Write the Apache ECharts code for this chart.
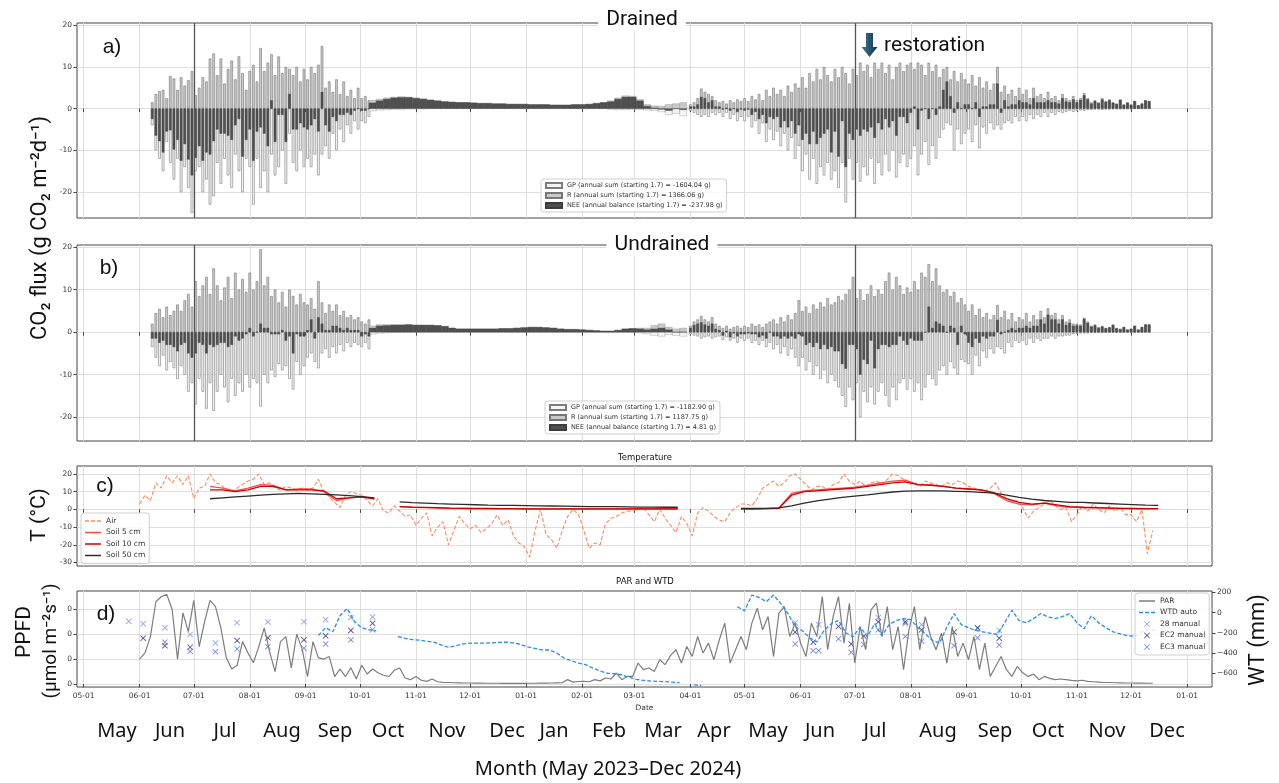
<!DOCTYPE html>
<html>
<head>
<meta charset="utf-8">
<title>CO2 flux, temperature, PAR and WTD (May 2023 - Dec 2024)</title>
<script src="https://cdn.jsdelivr.net/npm/echarts@6/dist/echarts.min.js"></script>
<style>
html, body { margin: 0; padding: 0; background: #fff; }
#main { width: 1279px; height: 783px; }
</style>
</head>
<body>
<div id="main"></div>
<script>
var DAY = 86400000;
function utc(y, m, d) { return Date.UTC(y, m - 1, d); }

// ---- sampling of the flux blocks (first day, step in days) ----
var season2023Start = utc(2023, 6, 8), season2024Start = utc(2024, 4, 1), seasonStep = 2;
var winterStart = utc(2023, 10, 8), winterStep = 4;

// ---- a) Drained, g CO2 m-2 d-1 ----
var gpDrained2023 = [-4, -10, -12, -15, -8, -13, -17, -12, -20, -14, -19, -25,
  -15, -14, -20, -17, -23, -21, -13, -18, -12, -16, -19, -11, -15, -20, -12,
  -14, -23, -12, -19, -15, -20, -11, -16, -14, -10, -18, -6, -13, -15, -10, -14,
  -12, -14, -11, -16, -11, -9, -12, -6, -10, -5, -8, -4, -6, -3, -5,
  -3, -3.5, -2];
var rDrained2023 = [1.5, 3.5, 4.2, 4.5, 2.5, 7.8, 7.2, 4.5, 7.5, 5.5, 6.8, 9,
  3.2, 5, 7.5, 6.5, 12, 13.2, 8, 12, 6, 9.5, 11.5, 7, 12.5, 8.5, 4.5,
  9, 10.5, 6.5, 14.5, 9, 11, 13, 8, 12.5, 8.5, 10, 9.5, 8, 10, 6.5, 9.5,
  7, 10, 8.5, 10.5, 15, 5, 6.5, 4, 7, 3.5, 6.5, 3, 4.5, 2.5, 5,
  2.5, 3, 2];
var gpDrainedWinter = [-0.6, -0.4, -0.3, -0.2, -0.2, -0.1,
  -0.1, -0.1, 0, 0, 0, 0, 0, 0,
  0, 0, 0, 0, 0, 0, 0, 0,
  0, 0, 0, 0, 0, 0, 0,
  0, 0, 0, 0, -0.2, -0.3, -0.3, -0.2,
  -0.3, -0.4, -0.5, -0.8, -1.5, -1.2, -1.8];
var rDrainedWinter = [2.0, 2.3, 2.6, 2.8, 2.9, 2.8,
  2.6, 2.4, 2.1, 1.9, 1.7, 1.6, 1.5, 1.5,
  1.4, 1.3, 1.3, 1.2, 1.2, 1.1, 1.1, 1.1,
  1.0, 1.0, 1.0, 0.9, 0.9, 0.9, 1.0,
  1.0, 1.1, 1.3, 1.5, 1.9, 2.6, 3.1, 3.0,
  2.2, 1.0, 0.7, 0.6, 1.0, 1.2, 1.5];
var gpDrained2024 = [-0.5, -1, -1.5, -2, -1.5, -2, -1, -1.5, -1, -2, -1, -2.5, -1.5, -3, -2,
  -3, -2, -4.5, -3, -6, -3.5, -8, -5, -7.5, -5.5, -9, -6, -10, -7, -12, -9,
  -15, -11, -17, -12, -18, -14, -16, -13, -17, -15, -19, -13, -22.5, -12, -17,
  -13, -17.5, -14, -16, -12, -18, -13, -16, -11, -15, -10, -16.5, -13, -11, -14,
  -12, -9, -16, -11, -8, -13.5, -9, -12, -7, -5, -3.5, -4, -10, -5, -8.5, -6,
  -5, -8, -4, -9.5, -4.5, -6, -3.5, -5, -4, -5, -3.5, -3, -3.5, -2, -3,
  -2, -3, -1.5, -2.5, -1.5, -2, -1, -2, -1, -1.5, -0.8, -1, -0.8, -0.5, -0.8,
  -0.5, -0.4, -0.5, -0.3, -0.3, -0.2, -0.2, -0.3, -0.2, -0.2, -0.1, -0.1, -0.1, -0.1, -0.1,
  -0.1, 0, 0, 0, 0, 0];
var rDrained2024 = [1, 1.5, 2.5, 4.8, 4, 3.5, 3, 2, 1.5, 1.8, 1.2, 2, 1.5, 2.2, 1.8,
  2.5, 1.8, 3, 2.2, 3.5, 2, 4.5, 3, 5, 3.5, 4.5, 3, 5.5, 4, 6, 5,
  7.5, 5, 8.5, 6.5, 9.5, 7, 10, 8, 6.5, 9.5, 7.5, 10, 8.5, 6, 9.5,
  8, 11, 9, 10.5, 7.5, 11, 9.5, 11, 8.5, 10.5, 7, 10, 11, 9, 10.5,
  11, 9.5, 11, 10.5, 8, 11, 9, 10.5, 7.5, 9.5, 10, 7, 9, 6.5, 8.5, 7,
  6, 8, 5.5, 7.5, 5, 6.5, 4.5, 6, 10, 4, 5.5, 3.5, 4.5, 3, 5,
  3.5, 4.5, 2.5, 5, 3, 3.5, 2.5, 4, 2.5, 3, 2, 3.5, 2.5, 2, 3,
  2, 2.5, 3.7, 2.5, 1.5, 2, 1.5, 2.5, 1.8, 2.2, 1.5, 1.2, 2.2, 1, 1.5,
  1, 1.8, 0.8, 1.2, 2, 1.8];

// ---- b) Undrained ----
var gpUndrained2023 = [-3.5, -6, -8, -5.5, -9, -7, -8.5, -11, -8, -10, -14, -12,
  -17, -11, -14, -18, -12, -18.5, -14, -10, -13, -16.5, -11, -15, -12, -14, -10,
  -13, -11, -12, -17.5, -10, -12, -9, -10.5, -7.5, -9, -8, -11, -13.5, -7, -10, -8,
  -6, -5, -7, -8.5, -5, -4, -6, -3.5, -5, -3, -4.5, -2.5, -3.5, -2.5, -3,
  -3.5, -2.5, -4];
var rUndrained2023 = [2, 4.5, 5.5, 3.5, 6, 4, 5, 6.5, 5, 7.5, 9, 6,
  12, 8.5, 11, 13, 9, 15, 11, 7.5, 10.5, 13, 8, 14, 10, 12.5, 9.5,
  14, 10, 12, 19.5, 11, 13, 8.5, 10, 7, 9.5, 6, 10, 8.5, 6.5, 9, 7,
  6.5, 8, 5.5, 12, 7, 4.5, 6.5, 5, 6.5, 4, 5, 3.5, 4, 3, 3.5,
  2.5, 2, 3];
var gpUndrainedWinter = [-0.5, -0.3, -0.2, -0.1, -0.1, 0,
  0, 0, 0, 0, 0, 0, 0, 0,
  0, 0, 0, 0, 0, 0, 0, 0,
  0, 0, 0, 0, 0, 0, 0,
  0, 0, 0, 0, 0, 0, 0, 0,
  -0.2, -0.4, -0.8, -1, -0.6, -0.8, -1];
var rUndrainedWinter = [1.5, 1.8, 1.8, 1.8, 1.8, 1.8,
  1.7, 1.7, 1.7, 1.6, 1.4, 1.0, 0.8, 0.8,
  0.8, 0.8, 0.8, 0.8, 0.9, 0.9, 1.0, 1.1,
  1.2, 1.2, 1.1, 1.0, 0.8, 0.7, 0.7,
  0.6, 0.5, 0.4, 0.3, 0.3, 0.5, 0.8, 0.9,
  1.0, 1.0, 1.6, 2.0, 1.2, 0.8, 1.0];
var gpUndrained2024 = [-0.5, -0.8, -1, -1.5, -1.2, -1, -1.5, -1.2, -1, -1.8, -1.2, -2, -1.5, -2.5, -1.5,
  -2, -1.5, -2.5, -2, -3, -2, -3.5, -2.5, -4, -3, -5, -3.5, -5.5, -4, -6, -8,
  -6, -9, -7, -10, -8, -11, -9, -12, -10, -11.5, -13, -15, -17.6, -13, -16,
  -12, -20, -14, -16.5, -13, -17, -14, -12, -15, -17.5, -13, -16, -12, -11, -13.5,
  -11, -14, -12, -16, -13, -10, -11, -12.5, -9, -8, -10, -7, -8.5, -10, -6.5, -7,
  -7.5, -10, -5.5, -8, -4.5, -6, -4, -5, -3.5, -4, -5, -2.5, -3.5, -2, -2.5,
  -2, -3, -1.5, -2.5, -1.5, -2, -1.5, -1.5, -1, -1.5, -1, -1, -0.8, -0.8, -0.5,
  -0.4, -0.3, -0.3, -0.3, -0.2, -0.2, -0.2, -0.2, -0.1, -0.1, -0.1, -0.1, -0.1, 0, 0,
  0, 0, 0, 0, 0, 0];
var rUndrained2024 = [1.5, 2.5, 3, 3.8, 3, 2.5, 3.5, 2, 1.5, 1, 1.5, 0.8, 1.2, 1.5, 1,
  1.5, 1.2, 2, 1.5, 1.8, 1.2, 2, 2.5, 3, 2, 3.5, 2.5, 4, 3, 4.5, 7.5,
  5, 6, 4.5, 6.5, 5.5, 7, 6, 8, 6.5, 7, 8.5, 7.5, 9, 10, 13,
  8, 10, 7.5, 9, 11, 8.5, 10, 9, 12, 14, 10, 13, 11, 9, 10.5,
  9.5, 12, 10, 14, 13, 16, 12, 15, 11, 9.5, 10, 8.5, 9.5, 7, 8, 6.5,
  5, 6.5, 4, 5.5, 3.5, 4.5, 3, 4, 6.4, 3.5, 5, 3, 4.5, 2.5, 3.5,
  3, 4.5, 2.5, 4, 3, 5, 3.5, 5.6, 4, 4.5, 3, 4, 2.5, 3, 2,
  2, 1.8, 3.4, 2.5, 1.5, 1.8, 1.2, 1.5, 1, 1.2, 1.8, 1, 0.8, 1.2, 0.6,
  0.8, 1.5, 0.6, 1.2, 1.8, 1.8];

var legendDrained = ['GP (annual sum (starting 1.7) = -1604.04 g)', 'R (annual sum (starting 1.7) = 1366.06 g)', 'NEE (annual balance (starting 1.7) = -237.98 g)'];
var legendUndrained = ['GP (annual sum (starting 1.7) = -1182.90 g)', 'R (annual sum (starting 1.7) = 1187.75 g)', 'NEE (annual balance (starting 1.7) = 4.81 g)'];
var yearMarks = [utc(2023, 7, 1), utc(2024, 7, 1)];

// ---- c) temperature, deg C ----
var airStart = utc(2023, 6, 1), airStep = 3;
var airTemp = [3, 8, 5, 15, 12, 19, 15, 19, 14, 19,
  6, 12, 13, 20, 15, 14, 11, 10, 12, 14,
  16, 17, 20, 14, 15, 12, 11, 13, 12, 11,
  12, 11, 12, 17, 10, 7, 4, 1, 8, 10,
  9, 8, 5, 2, 6, -1, -2, 2, -1, -4,
  -3, -9, -5, -2, -15, -10, -7, -20, -12, -4,
  -8, -11, -9, -13, -11, -8, -3, -9, -6, -15,
  -19, -21, -27, -12, 0, -14, -17, -22, -12, -4,
  0, -3, -12, -22, -19, -20, -8, -5, -4, -2,
  -1, -1, 0, 1, -3, -7, 0, -5, -9, -13,
  -4, -8, -15, -2, 1, -1, -4, -6, -7, -2,
  1, 3, 3, 2, 6, 12, 14, 16, 13, 15,
  19, 20, 17, 14, 11, 13, 13, 11, 14, 15,
  20, 16, 14, 16, 13, 15, 16, 14, 17, 20,
  19, 17, 14, 15, 13, 16, 15, 14, 13, 15,
  14, 16, 15, 13, 12, 11, 10, 12, 15, 9,
  6, 4, 5, 1, -5, -1, 1, 3, 5, 2,
  0, 1, -7, -3, 2, -1, 3, 0, -2, 2,
  -1, 1, -3, -3, -7, 0, -25, -12];
var soilStart = utc(2023, 7, 10), soilStep = 7;
var soil5 = [13, 12, 10.5, 12, 14, 13.5, 11, 11.5, 11.5, 10, 5, 6.5, 7, 6, null,
  1.5, 1.2, 1.0, 0.8, 0.6, 0.5, 0.4, 0.4, 0.3, 0.3,
  0.2, 0.2, 0.2, 0.2, 0.2, 0.2, 0.2, 0.2, 0.2, 0.2, 0.2, 0.2, 0.2, null, 0.2, null, null,
  0.3, 0.3, 0.4, 0.8, 9, 10.5, 11, 11.5, 12, 12.5, 13.5, 15, 16, 16.5,
  14, 14, 13, 12, 11.5, 11, 9, 5, 3, 2.5, 3.5, 2, 1.2, 1, 0.8, 0.6, 0.5, 0.4, 0.3, 0.3];
var soil10 = [11, 11, 10, 11, 13, 13, 11, 11, 11, 10.5, 6, 6.5, 7, 6, null,
  1.6, 1.3, 1.1, 0.9, 0.7, 0.6, 0.5, 0.5, 0.4, 0.4,
  0.3, 0.3, 0.3, 0.3, 0.3, 0.3, 0.3, 0.3, 0.3, 0.3, 0.3, 0.3, 0.3, null, 0.3, null, null,
  0.3, 0.3, 0.4, 0.6, 8, 10, 10.5, 11, 11.5, 12, 13, 14, 15, 15.5,
  14, 13.5, 13, 12, 11.5, 11, 9.5, 6, 4, 3, 3.5, 2.5, 1.5, 1.2, 1, 0.8, 0.6, 0.5, 0.4, 0.4];
var soil50 = [6, 6.5, 7, 7.5, 8, 8.5, 8.8, 9, 8.8, 8.5, 8.2, 7.8, 7.2, 6.5, null,
  4.2, 3.8, 3.5, 3.2, 3.0, 2.8, 2.6, 2.4, 2.3, 2.2,
  2.1, 2.0, 1.9, 1.8, 1.7, 1.6, 1.5, 1.5, 1.4, 1.3, 1.3, 1.2, 1.2, null, 1.1, null, null,
  0.5, 0.5, 0.6, 0.8, 2.0, 3.5, 4.8, 5.8, 6.8, 7.5, 8.2, 9.0, 9.8, 10.3,
  10.5, 10.5, 10.4, 10.2, 10.0, 9.6, 9.2, 8.0, 6.8, 5.8, 5.0, 4.5, 4.0, 3.9, 3.6, 3.3, 3.0, 2.7, 2.4, 2.2];

// ---- d) PAR and water table ----
var parStart = utc(2023, 6, 1), parStep = 3;
var par = [200, 250, 380, 660, 700, 720, 600, 200, 570, 420,
  670, 300, 500, 670, 620, 450, 210, 120, 150, 340,
  250, 170, 300, 450, 260, 100, 340, 380, 130, 400,
  280, 60, 340, 210, 200, 220, 60, 120, 60, 130,
  40, 150, 80, 120, 90, 70, 60, 110, 128, 48,
  35, 61, 30, 21, 40, 18, 13, 12, 10, 9,
  8, 8, 7, 7, 6, 6, 6, 5, 5, 5,
  5, 5, 6, 6, 7, 7, 8, 9, 10, 35,
  15, 20, 21, 18, 35, 25, 48, 40, 88, 35,
  61, 61, 168, 115, 128, 101, 195, 155, 230, 275,
  168, 301, 221, 381, 248, 328, 195, 355, 488, 168,
  275, 381, 275, 488, 608, 435, 541, 221, 568, 621,
  381, 488, 328, 221, 488, 381, 701, 275, 541, 701,
  328, 648, 168, 461, 275, 595, 648, 381, 621, 275,
  461, 115, 435, 621, 275, 541, 381, 275, 408, 168,
  461, 221, 328, 195, 381, 115, 328, 61, 141, 221,
  115, 61, 141, 90, 61, 80, 35, 61, 45, 35,
  40, 35, 29, 25, 30, 21, 18, 15, 12, 12,
  10, 9, 8, 8, 7, 7, 6, 6];
var wtdStart = utc(2023, 9, 8), wtdStep = 4;
var wtdAuto = [-227, -150, -190, -30, 40, -90, -150, -170, -180, null,
  null, -237, -255, -268, -272, -285, -293, -320, -343, -330,
  -310, -303, -303, -302, -300, -295, -293, -300, -315, -340,
  -355, -370, -370, -400, -450, -475, -500, -515, -550, -577,
  -600, -605, -615, -640, -660, -670, -677, -680, -683, -688,
  -693, null, -715, -720, null, null, null, null, 57, 17,
  173, 150, 107, 173, 90, -10, -140, -180, -250, -290,
  -177, -110, -77, -200, -240, -143, -240, -110, -230, -120,
  -77, -60, -70, -150, -210, -277, -300, -143, -10, -120,
  -150, -177, -190, -205, -215, -100, 23, -80, -100, -60,
  -10, -43, -60, -40, -10, -100, -160, -30, -100, -150,
  -190, -210, -230, -235, -190, -170, -180];
var manual28 = [['2023-05-26', -87], ['2023-06-03', -110], ['2023-06-15', -150], ['2023-06-29', -217],
  ['2023-07-13', -300], ['2023-07-25', -100], ['2023-08-11', -93], ['2023-08-31', -90], ['2023-09-12', -70],
  ['2023-09-26', -50], ['2023-10-08', -43], ['2024-05-29', -100], ['2024-06-11', -120], ['2024-07-14', -50],
  ['2024-07-29', -110], ['2024-08-07', -120], ['2024-09-07', -150], ['2024-09-19', -177]];
var manualEC2 = [['2023-06-03', -253], ['2023-06-15', -327], ['2023-06-29', -343], ['2023-07-25', -277],
  ['2023-08-11', -250], ['2023-08-31', -270], ['2023-09-12', -230], ['2023-09-26', -177], ['2023-10-08', -107],
  ['2024-05-29', -193], ['2024-06-08', -293], ['2024-06-22', -137], ['2024-06-29', -310], ['2024-07-06', -233],
  ['2024-07-14', -93], ['2024-07-29', -93], ['2024-08-07', -170], ['2024-08-25', -193], ['2024-09-07', -153],
  ['2024-09-19', -253]];
var manualEC3 = [['2023-06-15', -293], ['2023-06-29', -383], ['2023-07-13', -387], ['2023-07-25', -360],
  ['2023-08-11', -337], ['2023-08-31', -353], ['2023-09-12', -310], ['2023-09-26', -270], ['2023-10-08', -170],
  ['2024-05-29', -310], ['2024-06-08', -377], ['2024-06-11', -377], ['2024-06-22', -260], ['2024-06-29', -393],
  ['2024-07-06', -317], ['2024-07-14', -170], ['2024-07-29', -237], ['2024-08-07', -283], ['2024-08-25', -327],
  ['2024-09-07', -250], ['2024-09-19', -320]];

var monthLabels = ['May', 'Jun', 'Jul', 'Aug', 'Sep', 'Oct', 'Nov', 'Dec', 'Jan', 'Feb', 'Mar', 'Apr',
  'May', 'Jun', 'Jul', 'Aug', 'Sep', 'Oct', 'Nov', 'Dec'];
var monthLabelX = [117, 170, 225, 282, 335, 388, 447, 507, 554, 609, 663, 714, 768, 820, 875, 938, 995, 1048, 1107, 1167];

// ---- helpers ----
function seq(start, step, vals) {
  return vals.map(function (v, i) { return [start + i * step * DAY, v == null ? '-' : v]; });
}
function points(list) {
  return list.map(function (p) { return [new Date(p[0]).getTime(), p[1]]; });
}
// NEE = GP + R (the legend sums agree: -1604.04 + 1366.06 = -237.98)
function nee(gp, r) {
  return gp.map(function (v, i) { return Math.round((v + r[i]) * 100) / 100; });
}

var xMin = utc(2023, 5, 1) - 3.66 * DAY;
var xMax = utc(2025, 1, 1) + 13.8 * DAY;
var monthTicks = [];
for (var k = 0; k <= 20; k++) monthTicks.push(Date.UTC(2023, 4 + k, 1));

var tickFont = { fontSize: 7.5, color: '#333', fontFamily: 'DejaVu Sans' };
var gridLine = { color: '#dedede', width: 1 };

function xAxisFor(grid, extra) {
  var ax = {
    type: 'value', gridIndex: grid, min: xMin, max: xMax,
    axisLine: { show: false },
    axisTick: { show: true, length: 3.5, customValues: monthTicks, lineStyle: { color: '#444' } },
    axisLabel: { show: false, customValues: monthTicks },
    splitLine: { show: true, lineStyle: gridLine }
  };
  for (var key in extra) ax[key] = extra[key];
  return ax;
}
function hiddenX(grid) {
  return { type: 'value', gridIndex: grid, min: xMin, max: xMax, show: false, splitLine: { show: false } };
}
function yAxisFor(grid, min, max, ticks, extra) {
  var ax = {
    type: 'value', gridIndex: grid, min: min, max: max,
    axisLine: { show: false },
    axisTick: { show: true, length: 3.5, customValues: ticks, lineStyle: { color: '#444' } },
    axisLabel: Object.assign({ customValues: ticks, margin: 5 }, tickFont),
    splitLine: { show: true, lineStyle: gridLine }
  };
  for (var key in extra) ax[key] = extra[key];
  return ax;
}

var gpStyle = { color: '#f4f4f4', borderColor: '#7c7c7c', borderWidth: 0.6 };
var rStyle = { color: '#c9c9c9', borderColor: '#777', borderWidth: 0.6 };
var neeStyle = { color: '#505050', borderColor: '#3c3c3c', borderWidth: 0.4 };

function fluxSeries(names, xSeason, xWinter, yi, gp23, r23, gpW, rW, gp24, r24) {
  var list = [];
  var gpS = seq(season2023Start, seasonStep, gp23).concat(seq(season2024Start, seasonStep, gp24));
  var rS = seq(season2023Start, seasonStep, r23).concat(seq(season2024Start, seasonStep, r24));
  var neeS = seq(season2023Start, seasonStep, nee(gp23, r23)).concat(seq(season2024Start, seasonStep, nee(gp24, r24)));
  var sets = [[names[0], gpS, seq(winterStart, winterStep, gpW), gpStyle],
              [names[1], rS, seq(winterStart, winterStep, rW), rStyle],
              [names[2], neeS, seq(winterStart, winterStep, nee(gpW, rW)), neeStyle]];
  sets.forEach(function (s, i) {
    var season = {
      name: s[0], type: 'bar', xAxisIndex: xSeason, yAxisIndex: yi, data: s[1],
      barWidth: 2.6, barGap: '-100%', itemStyle: s[3], silent: true
    };
    if (i === 0) {
      season.markLine = {
        silent: true, symbol: ['none', 'none'], label: { show: false },
        lineStyle: { color: '#555', width: 1.3, type: 'solid' },
        data: yearMarks.map(function (t) { return { xAxis: t }; })
      };
    }
    list.push(season);
    list.push({
      name: s[0], type: 'bar', xAxisIndex: xWinter, yAxisIndex: yi, data: s[2],
      barWidth: 7.4, barGap: '-100%', silent: true,
      itemStyle: { color: s[3].color, borderColor: s[3].borderColor, borderWidth: 0.3 }
    });
  });
  return list;
}

function legendFor(names, left, top) {
  return {
    data: names, orient: 'vertical', left: left, top: top,
    icon: 'rect', itemWidth: 16, itemHeight: 5, itemGap: 3,
    padding: [3, 4], borderColor: '#cfcfcf', borderWidth: 1, borderRadius: 3,
    backgroundColor: 'rgba(255,255,255,0.85)', selectedMode: false,
    textStyle: { fontSize: 6.5, color: '#333', fontFamily: 'DejaVu Sans' }
  };
}
// legend keys drawn as short lines (solid or dashed), 16 x 1.5 px
var solidKey = 'path://M0,0 H32 V3 H0 Z';
var dashKey = 'path://M0,0 H8 V3 H0 Z M12,0 H20 V3 H12 Z M24,0 H32 V3 H24 Z';
var crossPath = 'path://M0,1 L1,0 L5,4 L9,0 L10,1 L6,5 L10,9 L9,10 L5,6 L1,10 L0,9 L4,5 Z';

function keyLegend(items, left, top, height) {
  return {
    data: items, orient: 'vertical', left: left, top: top,
    itemWidth: 16, itemHeight: height, itemGap: 3.5, padding: [4, 4], selectedMode: false,
    borderColor: '#cfcfcf', borderWidth: 1, borderRadius: 3, backgroundColor: 'rgba(255,255,255,0.85)',
    textStyle: { fontSize: 7.5, color: '#333', fontFamily: 'DejaVu Sans' }
  };
}

var series = []
  .concat(fluxSeries(legendDrained, 0, 1, 0, gpDrained2023, rDrained2023, gpDrainedWinter, rDrainedWinter, gpDrained2024, rDrained2024))
  .concat(fluxSeries(legendUndrained, 2, 3, 1, gpUndrained2023, rUndrained2023, gpUndrainedWinter, rUndrainedWinter, gpUndrained2024, rUndrained2024))
  .concat([
    { name: 'Air', type: 'line', xAxisIndex: 4, yAxisIndex: 2, data: seq(airStart, airStep, airTemp),
      symbol: 'none', lineStyle: { color: '#ff8a5c', width: 1.1, type: [4, 2] }, itemStyle: { color: '#ff8a5c' } },
    { name: 'Soil 5 cm', type: 'line', xAxisIndex: 4, yAxisIndex: 2, data: seq(soilStart, soilStep, soil5),
      symbol: 'none', lineStyle: { color: '#ff4a4a', width: 1.3 }, itemStyle: { color: '#ff4a4a' } },
    { name: 'Soil 10 cm', type: 'line', xAxisIndex: 4, yAxisIndex: 2, data: seq(soilStart, soilStep, soil10),
      symbol: 'none', lineStyle: { color: '#cc0000', width: 1.3 }, itemStyle: { color: '#cc0000' } },
    { name: 'Soil 50 cm', type: 'line', xAxisIndex: 4, yAxisIndex: 2, data: seq(soilStart, soilStep, soil50),
      symbol: 'none', lineStyle: { color: '#2b2b2b', width: 1.3 }, itemStyle: { color: '#2b2b2b' } },
    { name: 'PAR', type: 'line', xAxisIndex: 5, yAxisIndex: 3, data: seq(parStart, parStep, par),
      symbol: 'none', lineStyle: { color: '#7d7d7d', width: 1.2 }, itemStyle: { color: '#7d7d7d' } },
    { name: 'WTD auto', type: 'line', xAxisIndex: 5, yAxisIndex: 4, data: seq(wtdStart, wtdStep, wtdAuto),
      symbol: 'none', lineStyle: { color: '#2b8cf0', width: 1.3, type: [4, 2] }, itemStyle: { color: '#2b8cf0' } },
    { name: '28 manual', type: 'scatter', xAxisIndex: 5, yAxisIndex: 4, data: points(manual28),
      symbol: crossPath, symbolSize: 6, itemStyle: { color: '#6a8cf0' } },
    { name: 'EC2 manual', type: 'scatter', xAxisIndex: 5, yAxisIndex: 4, data: points(manualEC2),
      symbol: crossPath, symbolSize: 6, itemStyle: { color: '#1d1d85' } },
    { name: 'EC3 manual', type: 'scatter', xAxisIndex: 5, yAxisIndex: 4, data: points(manualEC3),
      symbol: crossPath, symbolSize: 6, itemStyle: { color: '#4a6ae6' } }
  ]);

function txt(text, x, y, size, extra) {
  var el = { type: 'text', x: x, y: y, z: 100,
    style: { text: text, fontSize: size, fontFamily: 'Roboto', fill: '#111', align: 'center', verticalAlign: 'middle' } };
  for (var key in extra) {
    if (key === 'style') { for (var s in extra.style) el.style[s] = extra.style[s]; }
    else el[key] = extra[key];
  }
  return el;
}

var graphics = [
  txt('CO\u2082 flux (g CO\u2082 m\u207B\u00B2d\u207B\u00B9)', 40, 228, 22, { rotation: Math.PI / 2 }),
  txt('T (\u00B0C)', 40, 515, 21, { rotation: Math.PI / 2 }),
  txt('PPFD', 25, 632, 21, { rotation: Math.PI / 2 }),
  txt('(\u00B5mol m\u207B\u00B2s\u207B\u00B9)', 51, 641, 19, { rotation: Math.PI / 2 }),
  txt('WT (mm)', 1258, 640, 22, { rotation: Math.PI / 2 }),
  txt('a)', 112, 47, 21, { style: { fontFamily: 'Liberation Sans' } }),
  txt('b)', 109, 268, 21, { style: { fontFamily: 'Liberation Sans' } }),
  txt('c)', 105, 486, 21, { style: { fontFamily: 'Liberation Sans' } }),
  txt('d)', 106, 614, 21, { style: { fontFamily: 'Liberation Sans' } }),
  txt('Drained', 642, 20, 21, { style: { backgroundColor: '#fff', padding: [1, 8] } }),
  txt('Undrained', 662, 245, 21, { style: { backgroundColor: '#fff', padding: [1, 8] } }),
  txt('restoration', 884, 46, 21, { style: { align: 'left' } }),
  { type: 'polygon', z: 100, shape: { points: [[866, 33], [873, 33], [873, 47], [877.5, 47], [869.5, 57], [861.5, 47], [866, 47]] },
    style: { fill: new echarts.graphic.LinearGradient(0, 0, 1, 0, [{ offset: 0, color: '#3d7896' }, { offset: 1, color: '#0f3447' }]) } },
  txt('Temperature', 645, 458, 8.5, { style: { fontFamily: 'DejaVu Sans' } }),
  txt('PAR and WTD', 645, 582, 8.5, { style: { fontFamily: 'DejaVu Sans' } }),
  txt('Month (May 2023\u2013Dec 2024)', 608, 769, 20, { style: { fontFamily: 'Noto Sans' } })
];
monthLabels.forEach(function (m, i) {
  graphics.push(txt(m, monthLabelX[i], 731, 20, { style: { fontFamily: 'Noto Sans' } }));
});

var option = {
  animation: false,
  backgroundColor: '#fff',
  grid: [
    { left: 77, right: 67, top: 23, height: 195, show: true, borderColor: '#444', borderWidth: 1 },
    { left: 77, right: 67, top: 245, height: 196, show: true, borderColor: '#444', borderWidth: 1 },
    { left: 77, right: 67, top: 466, height: 100, show: true, borderColor: '#444', borderWidth: 1 },
    { left: 77, right: 67, top: 591, height: 96, show: true, borderColor: '#444', borderWidth: 1 }
  ],
  xAxis: [
    xAxisFor(0), hiddenX(0),
    xAxisFor(1), hiddenX(1),
    xAxisFor(2),
    xAxisFor(3, {
      axisLabel: Object.assign({ show: true, customValues: monthTicks, margin: 5,
        formatter: function (v) { var m = new Date(v).getUTCMonth() + 1; return (m < 10 ? '0' : '') + m + '-01'; } }, tickFont),
      name: 'Date', nameLocation: 'middle', nameGap: 17, nameTextStyle: tickFont
    })
  ],
  yAxis: [
    yAxisFor(0, -26.2, 20.5, [-20, -10, 0, 10, 20]),
    yAxisFor(1, -25.6, 20.5, [-20, -10, 0, 10, 20]),
    yAxisFor(2, -32, 24.5, [-30, -20, -10, 0, 10, 20]),
    // only the last digit of the PAR labels shows in the original; the rest sits under the PPFD caption
    yAxisFor(3, -24, 746, [0, 200, 400, 600], {
      axisLabel: Object.assign({ customValues: [0, 200, 400, 600], margin: 5,
        formatter: function (v) { return String(v).slice(-1); } }, tickFont)
    }),
    yAxisFor(3, -736, 213, [-600, -400, -200, 0, 200], {
      position: 'right', splitLine: { show: false },
      axisLabel: Object.assign({ customValues: [-600, -400, -200, 0, 200], margin: 5,
        formatter: function (v) { return v < 0 ? '\u2212' + Math.abs(v) : String(v); } }, tickFont)
    })
  ],
  legend: [
    legendFor(legendDrained, 541, 179),
    legendFor(legendUndrained, 545, 401),
    keyLegend([{ name: 'Air', icon: dashKey }, { name: 'Soil 5 cm', icon: solidKey },
               { name: 'Soil 10 cm', icon: solidKey }, { name: 'Soil 50 cm', icon: solidKey }], 81, 513, 1.5),
    keyLegend([{ name: 'PAR', icon: solidKey }, { name: 'WTD auto', icon: dashKey },
               { name: '28 manual', icon: crossPath }, { name: 'EC2 manual', icon: crossPath },
               { name: 'EC3 manual', icon: crossPath }], 1135, 593, 6)
  ],
  graphic: graphics,
  series: series
};

var myChart = echarts.init(document.getElementById('main'));
myChart.setOption(option);
window.addEventListener('resize', function () { myChart.resize(); });
</script>
</body>
</html>
